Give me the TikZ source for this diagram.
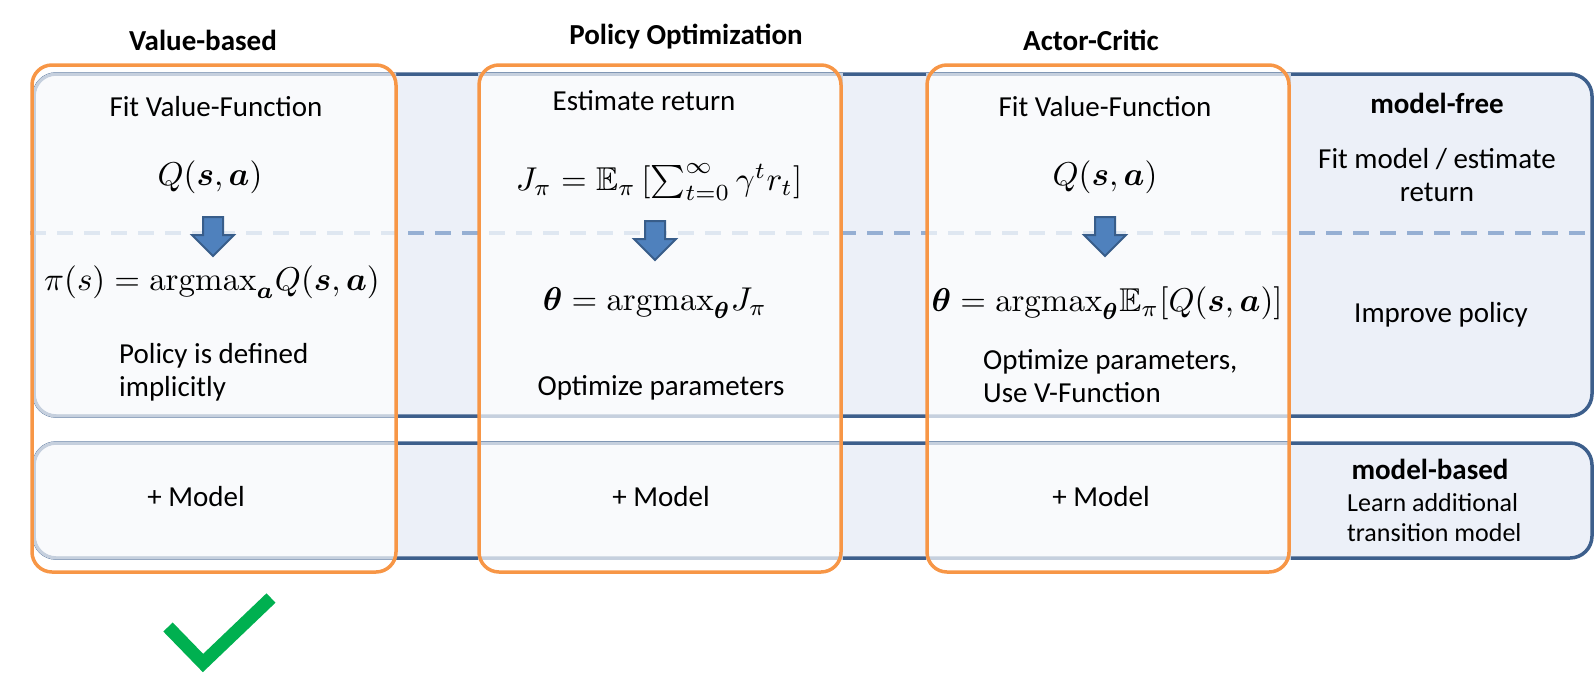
\documentclass[tikz,border=0pt]{standalone}
\usepackage{amsmath,amssymb,bm}
\usepackage{graphicx}
\usepackage[no-math]{fontspec}
\setmainfont{Carlito}
\definecolor{bandfill}{HTML}{ECF0F8}
\definecolor{banddraw}{HTML}{3D5F8C}
\definecolor{paneldraw}{HTML}{C6D0DE}
\definecolor{dashcol}{HTML}{95AFD3}
\definecolor{orangebox}{HTML}{F79646}
\definecolor{arrowfill}{HTML}{4F81BD}
\definecolor{arrowdraw}{HTML}{385D8A}
\definecolor{checkgreen}{HTML}{00B050}
\newcommand\bigmath[1]{\scalebox{3.3}{$#1$}}
\tikzset{
  band/.style={fill=bandfill, draw=banddraw, line width=3.5pt, rounded corners=22pt},
  panel/.style={fill=white, fill opacity=0.7, draw=paneldraw, draw opacity=1, line width=3pt},
  colbox/.style={draw=orangebox, line width=3.5pt, rounded corners=20pt},
  txt/.style={inner sep=0pt, font=\fontsize{29}{33}\selectfont},
  btxt/.style={inner sep=0pt, font=\fontsize{29}{33}\selectfont\bfseries},
  stxt/.style={inner sep=0pt, font=\fontsize{26}{30}\selectfont, align=left},
  mth/.style={inner sep=0pt},
  arrowst/.style={fill=arrowfill, draw=arrowdraw, line width=2pt, line join=miter},
  blockarrow/.pic={\draw[arrowst] (-10,0) -- (10,0) -- (10,18) -- (21,18) -- (0,39) -- (-21,18) -- (-10,18) -- cycle;},
  check/.style={draw=checkgreen, line width=13pt, line join=miter}
}
\begin{document}
\begin{tikzpicture}[x=1pt,y=-1pt]
\useasboundingbox (0,0) rectangle (1594,683);
% bands
\draw[band] (34,74) rectangle (1592,416);
\draw[band] (34,443) rectangle (1592,558);
% dashed separator
\draw[dashcol, line width=3.3pt, dash pattern=on 16pt off 11pt] (30,233) -- (1594,233);
% panels column 1
\begin{scope}
  \clip (0,0) rectangle (396,683);
  \draw[panel, rounded corners=22pt] (34,74) rectangle (440,416);
  \draw[panel, rounded corners=22pt] (34,443) rectangle (440,558);
\end{scope}
% panels column 2 and 3
\draw[panel] (479,74) rectangle (841,416);
\draw[panel] (479,443) rectangle (841,558);
\draw[panel] (927,74) rectangle (1289,416);
\draw[panel] (927,443) rectangle (1289,558);
% orange column boxes
\draw[colbox] (32,65) rectangle (396,572);
\draw[colbox] (479,65) rectangle (841,572);
\draw[colbox] (927,65) rectangle (1289,572);
% titles
\node[btxt] (t1) at (203,40) {Value-based};
\node[btxt] (t2) at (686,37) {Policy Optimization};
\node[btxt] (t3) at (1091,40) {Actor-Critic};
% column 1
\node[txt] (fit1) at (216,107) {Fit Value-Function};
\node[mth] (q1) at (210,177) {\bigmath{Q(\bm{s},\bm{a})}};
\pic at (213,217) {blockarrow};
\node[mth] (pi1) at (212,282) {\bigmath{\pi(s) = \mathrm{argmax}_{\bm{a}} Q(\bm{s},\bm{a})}};
\node[txt, align=left, anchor=west] (impl) at (119,372) {Policy is defined\\implicitly};
\node[txt] (mod1) at (196,497) {+ Model};
% column 2
\node[txt] (est) at (644,101) {Estimate return};
\node[mth] (J) at (659,182) {\bigmath{J_\pi = \mathbb{E}_\pi \left[\sum_{t=0}^{\infty} \gamma^t r_t\right]}};
\pic at (655,221) {blockarrow};
\node[mth] (th2) at (655,303) {\bigmath{\bm{\theta} = \mathrm{argmax}_{\bm{\theta}} J_\pi}};
\node[txt] (opt2) at (661,388) {Optimize parameters};
\node[txt] (mod2) at (661,497) {+ Model};
% column 3
\node[txt] (fit3) at (1105,107) {Fit Value-Function};
\node[mth] (q3) at (1105,177) {\bigmath{Q(\bm{s},\bm{a})}};
\pic at (1105,217) {blockarrow};
\node[mth] (th3) at (1107,303) {\bigmath{\bm{\theta} = \mathrm{argmax}_{\bm{\theta}} \mathbb{E}_\pi[Q(\bm{s},\bm{a})]}};
\node[txt, align=left, anchor=west] (opt3) at (983,376) {Optimize parameters,\\Use V-Function};
\node[txt] (mod3) at (1101,497) {+ Model};
% right column
\node[btxt] (mf) at (1437,103) {model-free};
\node[txt, align=center] (fitm) at (1437,175) {Fit model / estimate\\return};
\node[txt] (imp) at (1441,315) {Improve policy};
\node[btxt] (mb) at (1430,469) {model-based};
\node[stxt, anchor=west] (learn) at (1347,518) {Learn additional\\transition model};
% check mark
\draw[check] (168,627) -- (203,663) -- (271,598);
\end{tikzpicture}
\end{document}
